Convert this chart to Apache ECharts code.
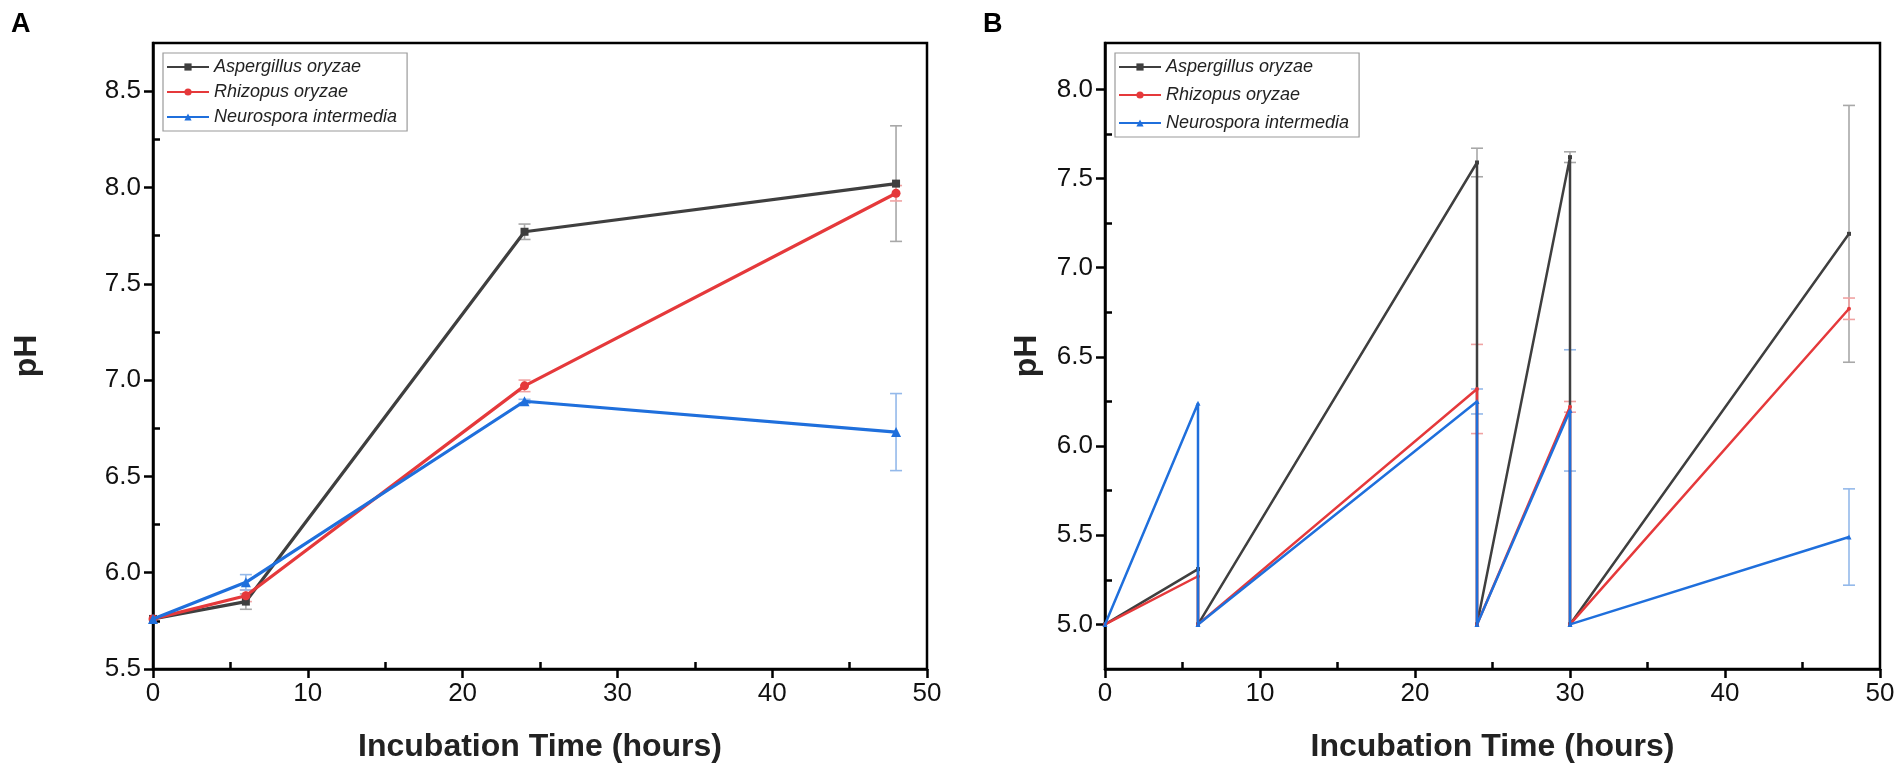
<!DOCTYPE html>
<html><head><meta charset="utf-8">
<script src="https://cdn.jsdelivr.net/npm/echarts@6/dist/echarts.min.js"></script>
<style>html,body{margin:0;padding:0;background:#fff}#c{width:1902px;height:776px}</style>
</head><body><div id="c"></div><script>
// ---- Data ----
const seriesNames = ['Aspergillus oryzae', 'Rhizopus oryzae', 'Neurospora intermedia'];
// Panel A
const timeA = [0, 6, 24, 48];
const aspA = [5.76, 5.85, 7.77, 8.02];
const aspAErr = [0, 0.04, 0.04, 0.30];
const rhiA = [5.76, 5.88, 6.97, 7.97];
const rhiAErr = [0, 0.03, 0.03, 0.04];
const neuA = [5.76, 5.95, 6.89, 6.73];
const neuAErr = [0, 0.04, 0.01, 0.20];
// Panel B
const timeB = [0, 6, 6, 24, 24, 30, 30, 48];
const aspB = [5.00, 5.31, 5.00, 7.59, 5.00, 7.62, 5.00, 7.19];
const aspBErr = [0, 0, 0, 0.08, 0, 0.03, 0, 0.72];
const rhiB = [5.00, 5.27, 5.00, 6.32, 5.00, 6.22, 5.00, 6.77];
const rhiBErr = [0, 0, 0, 0.25, 0, 0.03, 0, 0.06];
const neuB = [5.00, 6.24, 5.00, 6.25, 5.00, 6.20, 5.00, 5.49];
const neuBErr = [0, 0, 0, 0.07, 0, 0.34, 0, 0.27];
// Ticks
const xMajor = [0, 10, 20, 30, 40, 50];
const xMinor = [5, 15, 25, 35, 45];
const yMajorA = [5.5, 6.0, 6.5, 7.0, 7.5, 8.0, 8.5];
const yMinorA = [5.75, 6.25, 6.75, 7.25, 7.75, 8.25];
const yMajorB = [5.0, 5.5, 6.0, 6.5, 7.0, 7.5, 8.0];
const yMinorB = [5.25, 5.75, 6.25, 6.75, 7.25, 7.75];

// ---- Styles ----
const colors = ['#3f3f3f', '#e5393b', '#1f6fdc'];
const errColors = ['#a8a8a8', '#f0a2a2', '#94b9ea'];
const FONT = 'Liberation Sans, Arial, sans-serif';

const chart = echarts.init(document.getElementById('c'));

function pairs(t, v) { return t.map((x, i) => [x, v[i]]); }
function errData(t, v, e) {
  const out = [];
  t.forEach((x, i) => { if (e[i] > 0) out.push([x, v[i] - e[i], v[i] + e[i]]); });
  return out;
}
function errRender(color) {
  return function (params, api) {
    const x = api.value(0), lo = api.value(1), hi = api.value(2);
    const p1 = api.coord([x, hi]), p2 = api.coord([x, lo]);
    const w = 6;
    const st = { stroke: color, lineWidth: 1.6 };
    return { type: 'group', children: [
      { type: 'line', shape: { x1: p1[0], y1: p1[1], x2: p2[0], y2: p2[1] }, style: st },
      { type: 'line', shape: { x1: p1[0] - w, y1: p1[1], x2: p1[0] + w, y2: p1[1] }, style: st },
      { type: 'line', shape: { x1: p2[0] - w, y1: p2[1], x2: p2[0] + w, y2: p2[1] }, style: st }
    ]};
  };
}

function mainX(grid) {
  return {
    type: 'value', gridIndex: grid, min: 0, max: 50, interval: 10,
    name: 'Incubation Time (hours)', nameLocation: 'middle', nameGap: 62,
    nameTextStyle: { fontSize: 32, fontWeight: 'bold', color: '#222', fontFamily: FONT },
    axisLine: { show: true, lineStyle: { color: '#000', width: 2.5 } },
    axisTick: { show: true, inside: false, length: 9, lineStyle: { color: '#000', width: 2.5 }, customValues: xMajor },
    axisLabel: { fontSize: 26, color: '#111', margin: 12, fontFamily: FONT, customValues: xMajor },
    splitLine: { show: false }
  };
}
function minorX(grid) {
  return {
    type: 'value', gridIndex: grid, min: 0, max: 50, position: 'bottom',
    axisLine: { show: false }, axisLabel: { show: false }, splitLine: { show: false },
    axisTick: { show: true, inside: true, length: 7, lineStyle: { color: '#000', width: 2.5 }, customValues: xMinor }
  };
}
function mainY(grid, min, max, majors, gap) {
  return {
    type: 'value', gridIndex: grid, min: min, max: max,
    name: 'pH', nameLocation: 'middle', nameRotate: 90, nameGap: gap,
    nameTextStyle: { fontSize: 32, fontWeight: 'bold', color: '#222', fontFamily: FONT },
    axisLine: { show: true, lineStyle: { color: '#000', width: 2.5 } },
    axisTick: { show: true, inside: false, length: 9, lineStyle: { color: '#000', width: 2.5 }, customValues: majors },
    axisLabel: { fontSize: 26, color: '#111', margin: 12, fontFamily: FONT, customValues: majors,
      formatter: v => Number(v).toFixed(1) },
    splitLine: { show: false }
  };
}
function minorY(grid, min, max, minors) {
  return {
    type: 'value', gridIndex: grid, min: min, max: max, position: 'left',
    axisLine: { show: false }, axisLabel: { show: false }, splitLine: { show: false },
    axisTick: { show: true, inside: true, length: 7, lineStyle: { color: '#000', width: 2.5 }, customValues: minors }
  };
}

function lineSeries(name, data, idx, xi, yi, symbol, size, lw) {
  return {
    name: name, type: 'line', xAxisIndex: xi, yAxisIndex: yi, data: data,
    symbol: symbol, symbolSize: size, showSymbol: true,
    lineStyle: { color: colors[idx], width: lw }, itemStyle: { color: colors[idx] },
    z: 3 + idx, animation: false
  };
}
function errSeries(data, idx, xi, yi) {
  return {
    type: 'custom', xAxisIndex: xi, yAxisIndex: yi, data: data,
    renderItem: errRender(errColors[idx]), z: 2, animation: false, silent: true
  };
}
const symbols = ['rect', 'circle', 'triangle'];

const legendBase = {
  orient: 'vertical', itemWidth: 42, itemHeight: 9, itemGap: 7,
  padding: [5, 10, 5, 3], borderColor: '#9a9a9a', borderWidth: 1.2,
  textStyle: { fontSize: 18, fontStyle: 'italic', color: '#222', fontFamily: FONT },
  data: seriesNames
};

const option = {
  backgroundColor: '#fff',
  animation: false,
  title: [
    { text: 'A', left: 6, top: 6, textStyle: { fontSize: 27, fontWeight: 'bold', color: '#000', fontFamily: FONT } },
    { text: 'B', left: 978, top: 6, textStyle: { fontSize: 27, fontWeight: 'bold', color: '#000', fontFamily: FONT } }
  ],
  legend: [
    Object.assign({}, legendBase, { left: 163, top: 53 }),
    Object.assign({}, legendBase, { left: 1115, top: 53, itemGap: 10 })
  ],
  grid: [
    { left: 153, right: 975, top: 43, bottom: 107, show: true, borderColor: '#000', borderWidth: 2.5, containLabel: false },
    { left: 1105, right: 22, top: 43, bottom: 107, show: true, borderColor: '#000', borderWidth: 2.5, containLabel: false }
  ],
  xAxis: [mainX(0), mainX(1), minorX(0), minorX(1)],
  yAxis: [
    mainY(0, 5.5, 8.75, yMajorA, 110),
    mainY(1, 4.75, 8.26, yMajorB, 62),
    minorY(0, 5.5, 8.75, yMinorA),
    minorY(1, 4.75, 8.26, yMinorB)
  ],
  series: [
    errSeries(errData(timeA, aspA, aspAErr), 0, 0, 0),
    errSeries(errData(timeA, rhiA, rhiAErr), 1, 0, 0),
    errSeries(errData(timeA, neuA, neuAErr), 2, 0, 0),
    lineSeries(seriesNames[0], pairs(timeA, aspA), 0, 0, 0, symbols[0], 8, 3.2),
    lineSeries(seriesNames[1], pairs(timeA, rhiA), 1, 0, 0, symbols[1], 9, 3.2),
    lineSeries(seriesNames[2], pairs(timeA, neuA), 2, 0, 0, symbols[2], 10, 3.2),
    errSeries(errData(timeB, aspB, aspBErr), 0, 1, 1),
    errSeries(errData(timeB, rhiB, rhiBErr), 1, 1, 1),
    errSeries(errData(timeB, neuB, neuBErr), 2, 1, 1),
    lineSeries(seriesNames[0], pairs(timeB, aspB), 0, 1, 1, symbols[0], 4, 2.5),
    lineSeries(seriesNames[1], pairs(timeB, rhiB), 1, 1, 1, symbols[1], 4, 2.5),
    lineSeries(seriesNames[2], pairs(timeB, neuB), 2, 1, 1, symbols[2], 5, 2.5)
  ]
};
chart.setOption(option);
</script></body></html>
